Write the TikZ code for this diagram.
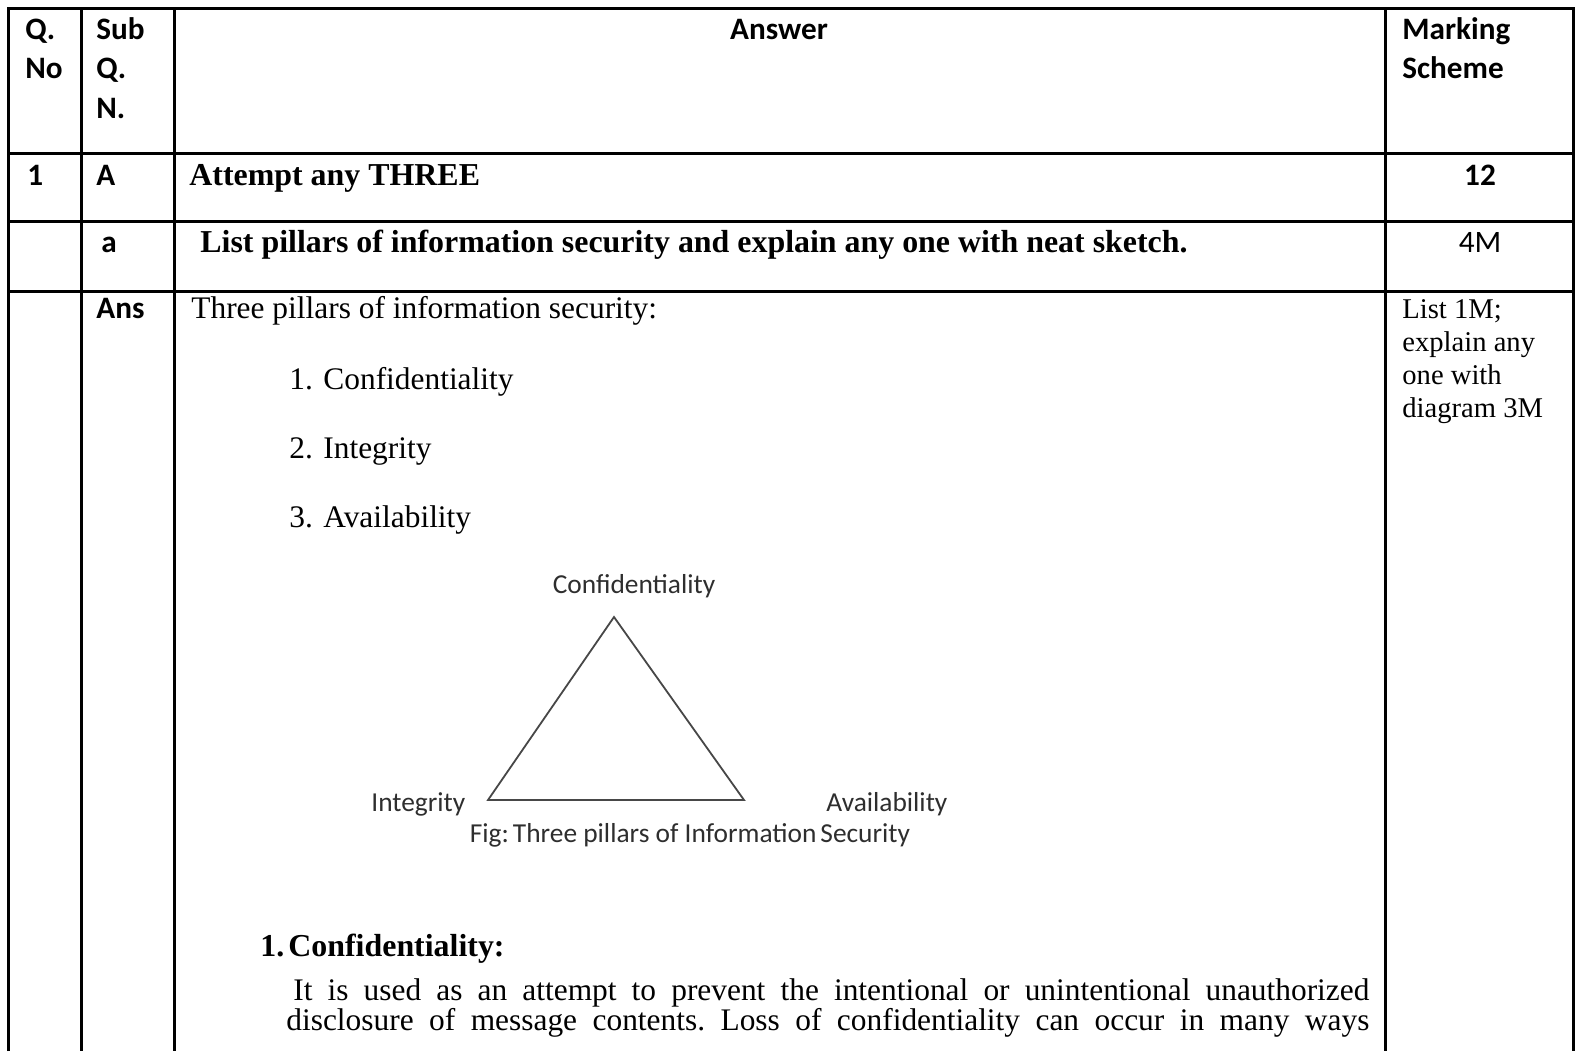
\documentclass[tikz,border=0pt]{standalone}
\usepackage{fontspec}
\setmainfont{Liberation Serif}
\newfontfamily\calib{Carlito}
\begin{document}
\begin{tikzpicture}[x=0.5pt,y=-0.5pt,
  rule/.style={line width=1.5pt, draw=black},
  hd/.style={font=\calib\bfseries\fontsize{15.6}{18}\selectfont, anchor=base west, inner sep=0pt},
  hdc/.style={hd, anchor=base},
  hdn/.style={font=\calib\fontsize{15.6}{18}\selectfont, anchor=base, inner sep=0pt},
  body/.style={font=\fontsize{15.7}{18}\selectfont, anchor=base west, inner sep=0pt},
  bodyb/.style={font=\bfseries\fontsize{15.95}{18}\selectfont, anchor=base west, inner sep=0pt},
  marktext/.style={font=\fontsize{14.3}{17}\selectfont, anchor=base west, inner sep=0pt},
  figlbl/.style={font=\calib\fontsize{13.7}{16}\selectfont, text=black!82, inner sep=0pt, anchor=base},
  tri/.style={draw=black!72, line width=0.9pt, line join=miter}
]
\useasboundingbox (0,0) rectangle (1580,1051);

% table rules
\draw[rule] (8,1051) -- (8,8) -- (1573,8) -- (1573,1051);
\draw[rule] (81,8) -- (81,1051);
\draw[rule] (174,8) -- (174,1051);
\draw[rule] (1385,8) -- (1385,1051);
\draw[rule] (8,153) -- (1573,153);
\draw[rule] (8,221) -- (1573,221);
\draw[rule] (8,291) -- (1573,291);

% header row
\node[hd] (qno1) at (25,39) {Q.};
\node[hd] (qno2) at (25,78) {No};
\node[hd] (sub1) at (96,39) {Sub};
\node[hd] (sub2) at (96,78) {Q.};
\node[hd] (sub3) at (96,118) {N.};
\node[hdc] (ans) at (779,39) {Answer};
\node[hd] (mk1) at (1402,39) {Marking};
\node[hd] (mk2) at (1402,78) {Scheme};

% row 1
\node[hd] (r1q) at (27,185) {1};
\node[hd] (r1s) at (96,185) {A};
\node[bodyb] (r1a) at (189,185) {Attempt any THREE};
\node[hdc] (r1m) at (1480,185) {12};

% row a
\node[hd] (r2s) at (101,252) {a};
\node[bodyb] (r2a) at (200,252) {List pillars of information security and explain any one with neat sketch.};
\node[hdn] (r2m) at (1480,252) {4M};

% answer row
\node[hd] (r3s) at (96,318) {Ans};
\node[body] (intro) at (191,318) {Three pillars of information security:};
\node[body] (p1) at (289,389) {1. Confidentiality};
\node[body] (p2) at (289,458) {2. Integrity};
\node[body] (p3) at (289,527) {3. Availability};

\node[marktext] (m1) at (1402,318) {List 1M;};
\node[marktext] (m2) at (1402,351) {explain any};
\node[marktext] (m3) at (1402,384) {one with};
\node[marktext] (m4) at (1402,417) {diagram 3M};

% CIA triangle
\coordinate (apex) at (614,617);
\coordinate (bl) at (488,800);
\coordinate (br) at (744,800);
\draw[tri] (apex) -- (bl) -- (br) -- cycle;
\node[figlbl] (lc) at (634,593) {Confidentiality};
\node[figlbl, anchor=base west] (li) at (371,811) {Integrity};
\node[figlbl, anchor=base west] (la) at (826,811) {Availability};
\node[figlbl] (cap) at (690,842) {Fig:\hspace{2pt}Three pillars of Information\hspace{2pt}Security};

% explanation
\node[bodyb] (h1n) at (260,956) {1.};
\node[bodyb] (h1t) at (288,956) {Confidentiality:};
\node[body] (t1) at (293,1000) {\frenchspacing\makebox[538pt][s]{It is used as an attempt to prevent the intentional or unintentional unauthorized}};
\node[body] (t2) at (286,1030) {\frenchspacing\makebox[541.5pt][s]{disclosure of message contents. Loss of confidentiality can occur in many ways}};
\end{tikzpicture}
\end{document}
